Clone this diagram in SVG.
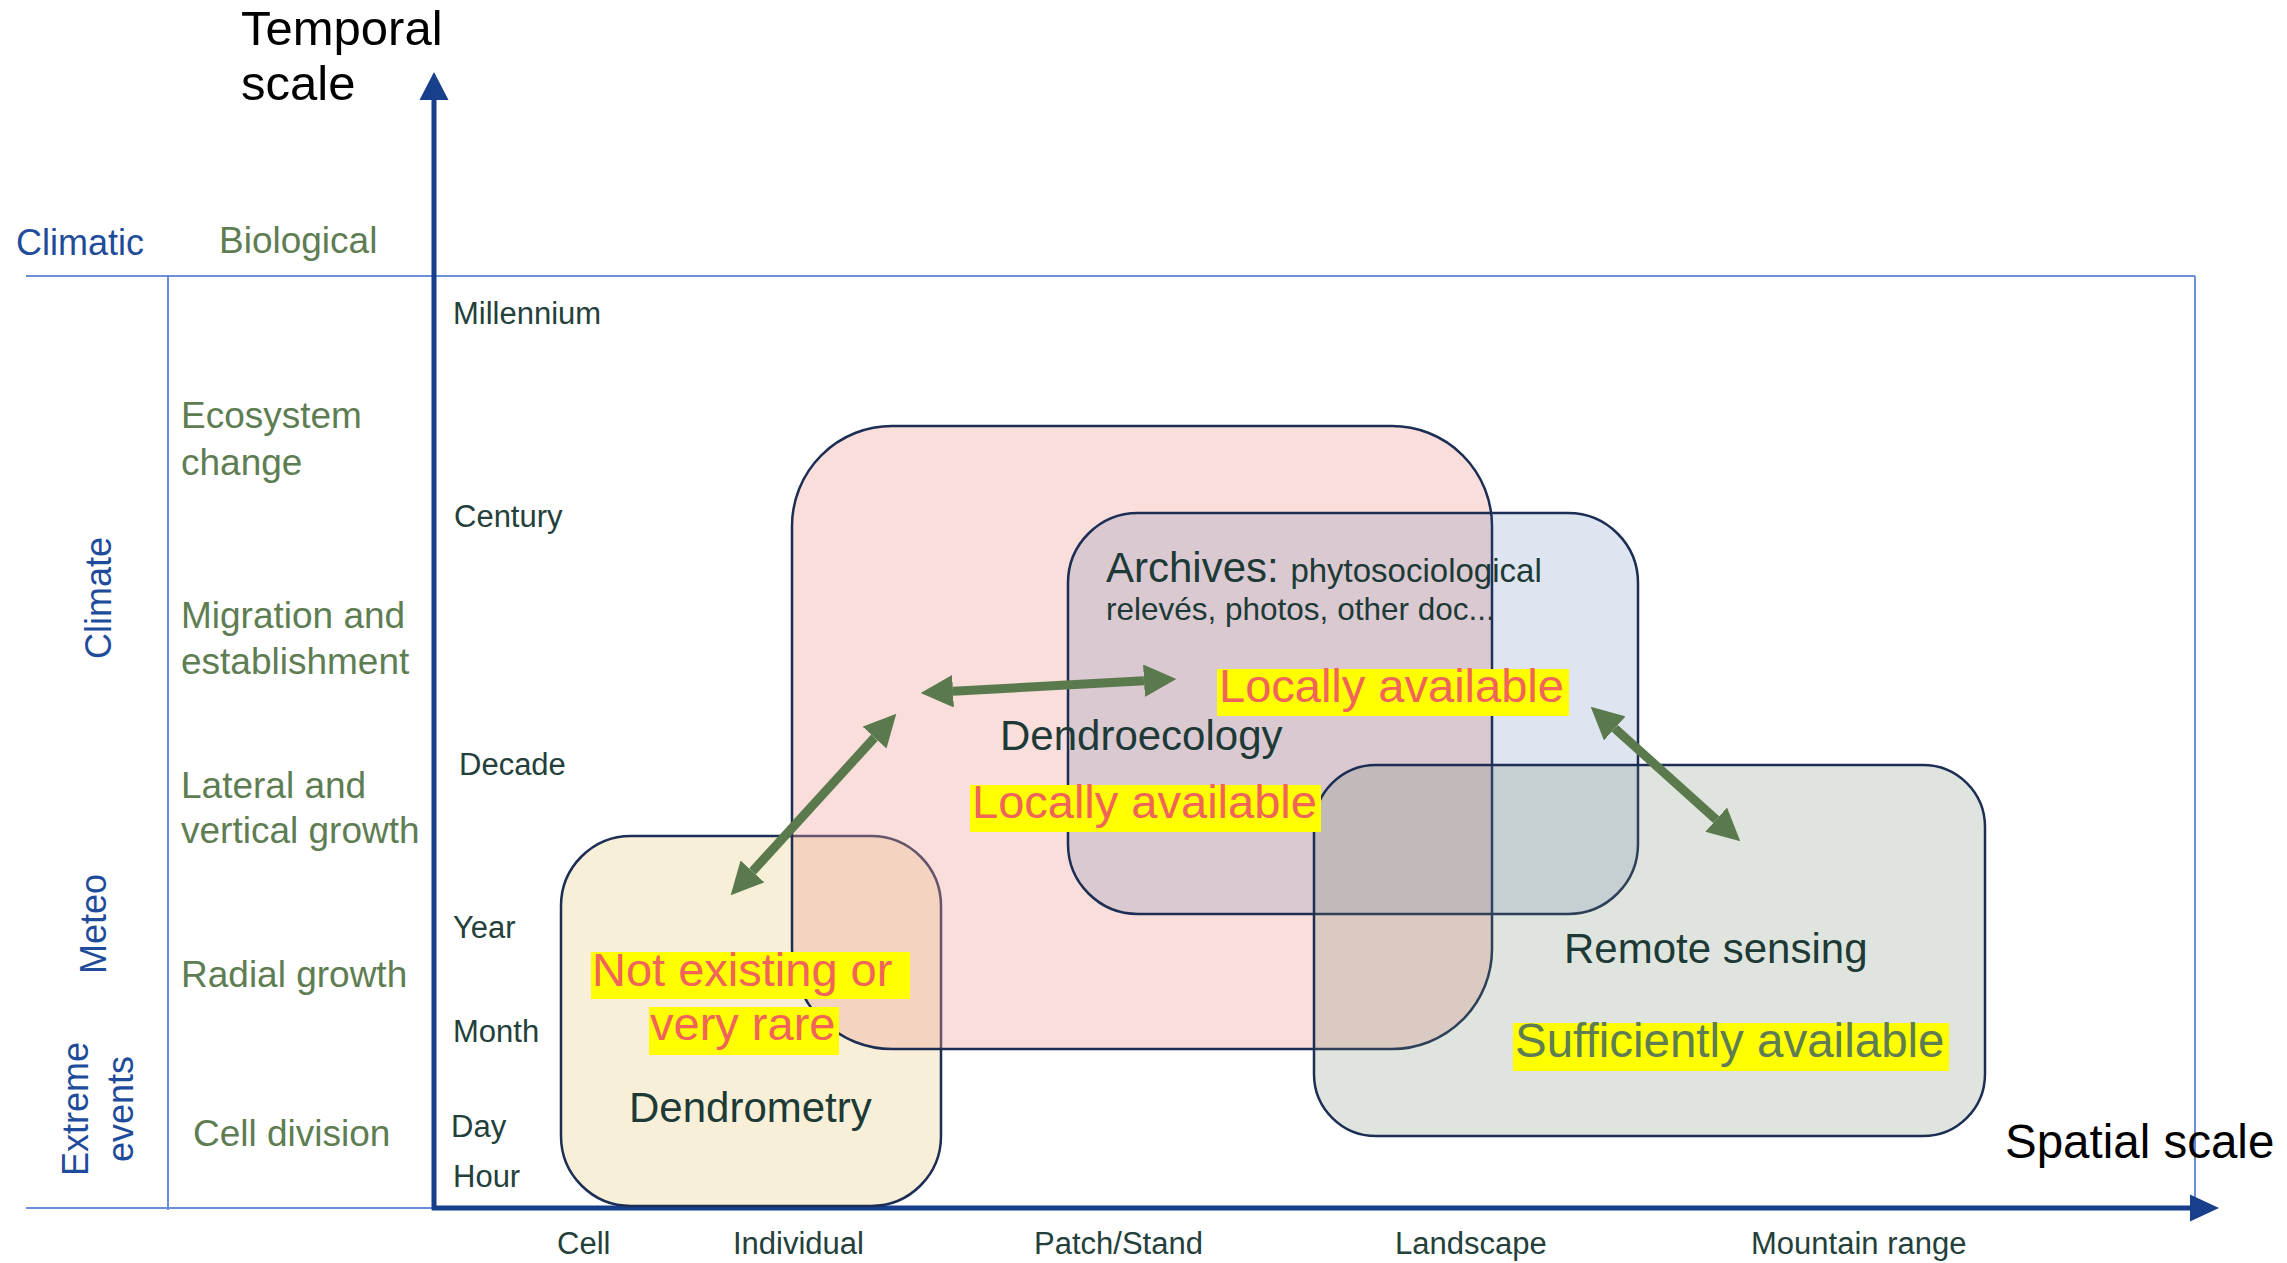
<svg xmlns="http://www.w3.org/2000/svg" width="2287" height="1263" viewBox="0 0 2287 1263">
<style>
text{font-family:"Liberation Sans",Arial,sans-serif}
.frame{stroke:#6b8fd6;stroke-width:2;fill:none}
.axis{stroke:#173f8c;stroke-width:5;fill:none}
.axhead{fill:#173f8c}
.title{font-size:48px;fill:#000}
.blue{font-size:36px;fill:#1f4c9a}
.green{font-size:37px;fill:#5e7d52}
.tick{font-size:31px;fill:#24403b}
.box{stroke:#1c2e54;stroke-width:2.5}
.name{font-size:42px;fill:#1d3a36}
.small{font-size:33px;fill:#1d3a36}
.hl{fill:#ffff00}
.avail{font-size:47px;fill:#f0645a}
.suff{font-size:47.5px;fill:#5e7d52}
.conn{stroke:#5a7a4e;stroke-width:9;fill:none;marker-start:url(#ah);marker-end:url(#ah)}
</style>
<defs>
<marker id="ah" viewBox="0 0 10 10" refX="0" refY="5" markerWidth="3.6" markerHeight="3.6" orient="auto-start-reverse">
<path d="M0,0 L10,5 L0,10 z" fill="#5a7a4e"/>
</marker>
</defs>
<rect width="2287" height="1263" fill="#fff"/>

<g id="frame">
<line class="frame" x1="26" y1="276" x2="2195" y2="276"/>
<line class="frame" x1="2195" y1="276" x2="2195" y2="1200"/>
<line class="frame" x1="26" y1="1208" x2="434" y2="1208"/>
<line class="frame" x1="168" y1="276" x2="168" y2="1210"/>
</g>

<g id="axes">
<line class="axis" x1="434" y1="1210" x2="434" y2="98"/>
<polygon class="axhead" points="434,72 419.5,100 448.5,100"/>
<line class="axis" x1="432" y1="1208" x2="2192" y2="1208"/>
<polygon class="axhead" points="2219,1208 2190,1194.5 2190,1221.5"/>
<text class="title" x="241" y="45" style="font-size:49px">Temporal</text>
<text class="title" x="241" y="100" style="font-size:49px">scale</text>
<text class="title" x="2005" y="1158" style="font-size:47.5px">Spatial scale</text>
</g>

<g id="left-labels">
<text class="blue" x="16" y="255">Climatic</text>
<text class="green" x="219" y="253">Biological</text>
<text class="blue" transform="translate(111,598) rotate(-90)" text-anchor="middle">Climate</text>
<text class="blue" transform="translate(106,924) rotate(-90)" text-anchor="middle">Meteo</text>
<text class="blue" transform="translate(88,1109) rotate(-90)" text-anchor="middle">Extreme</text>
<text class="blue" transform="translate(133,1109) rotate(-90)" text-anchor="middle">events</text>
<text class="green" x="181" y="428">Ecosystem</text>
<text class="green" x="181" y="475">change</text>
<text class="green" x="181" y="628">Migration and</text>
<text class="green" x="181" y="674">establishment</text>
<text class="green" x="181" y="798">Lateral and</text>
<text class="green" x="181" y="843">vertical growth</text>
<text class="green" x="181" y="987">Radial growth</text>
<text class="green" x="193" y="1146">Cell division</text>
</g>

<g id="time-ticks">
<text class="tick" x="453" y="324">Millennium</text>
<text class="tick" x="454" y="527">Century</text>
<text class="tick" x="459" y="775">Decade</text>
<text class="tick" x="453" y="938">Year</text>
<text class="tick" x="453" y="1042">Month</text>
<text class="tick" x="451" y="1137">Day</text>
<text class="tick" x="453" y="1187">Hour</text>
</g>

<g id="space-ticks">
<text class="tick" x="557" y="1254">Cell</text>
<text class="tick" x="733" y="1254">Individual</text>
<text class="tick" x="1034" y="1254">Patch/Stand</text>
<text class="tick" x="1395" y="1254">Landscape</text>
<text class="tick" x="1751" y="1254">Mountain range</text>
</g>

<g id="dendrometry">
<rect class="box" x="561" y="836" width="380" height="370" rx="70" ry="70" fill="#f8efd8"/>
</g>
<g id="dendroecology">
<rect class="box" x="792" y="426" width="700" height="623" rx="100" ry="100" fill="#f1a198" fill-opacity="0.35"/>
</g>
<g id="archives">
<rect class="box" x="1068" y="513" width="570" height="401" rx="70" ry="70" fill="#2a529b" fill-opacity="0.15"/>
</g>
<g id="remote-sensing">
<rect class="box" x="1314" y="765" width="671" height="371" rx="62" ry="62" fill="#6e8469" fill-opacity="0.22"/>
</g>

<g id="connectors">
<path class="conn" d="M752.5,871.4 L874.5,737.6"/>
<path class="conn" d="M953,691.2 L1144,680.8"/>
<path class="conn" d="M1614.8,728.4 L1716.2,819.6"/>
</g>

<g id="dendrometry-labels">
<rect class="hl" x="591" y="952" width="319" height="47"/>
<text class="avail" x="592" y="986">Not existing or</text>
<rect class="hl" x="649" y="1007" width="190" height="48"/>
<text class="avail" x="650" y="1040">very rare</text>
<text class="name" x="629" y="1122">Dendrometry</text>
</g>
<g id="dendroecology-labels">
<text class="name" x="1000" y="750">Dendroecology</text>
<rect class="hl" x="970" y="785" width="351" height="47"/>
<text class="avail" x="972" y="818">Locally available</text>
</g>
<g id="archives-labels">
<text class="name" x="1106" y="582">Archives: <tspan class="small" style="font-size:33px">phytosociological</tspan></text>
<text class="small" x="1106" y="620" style="font-size:31.5px">relevés, photos, other doc...</text>
<rect class="hl" x="1217" y="669" width="352" height="47"/>
<text class="avail" x="1219" y="702">Locally available</text>
</g>
<g id="remote-sensing-labels">
<text class="name" x="1564" y="963">Remote sensing</text>
<rect class="hl" x="1513" y="1023" width="436" height="48"/>
<text class="suff" x="1515" y="1057">Sufficiently available</text>
</g>
</svg>
